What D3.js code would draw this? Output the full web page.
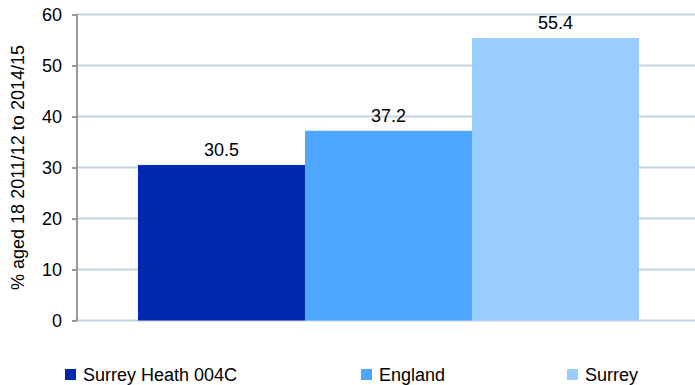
<!DOCTYPE html>
<html><head><meta charset="utf-8">
<script src="https://cdn.jsdelivr.net/npm/d3@7"></script>
<style>body{margin:0;background:#fff}svg{display:block;font-family:"Liberation Sans",Arial,sans-serif}</style>
</head><body>
<svg id="c" width="695" height="385"></svg>
<script>
const seriesNames = ["Surrey Heath 004C", "England", "Surrey"];
const seriesValues = [30.5, 37.2, 55.4];
const colors = ["#0029b0", "#4da6ff", "#99ccff"];
const yTicks = [0, 10, 20, 30, 40, 50, 60];
const yLabel = "% aged 18 2011/12 to 2014/15";

(function(){
const svg = d3.select("#c");
const FS = 18;
const mL = 77, mR = 700, mT = 14.5, mB = 320.5;
const y = d3.scaleLinear().domain([0, 60]).range([mB, mT]);
const x = d3.scaleBand().domain(seriesNames).range([mL, mR]).paddingInner(0).paddingOuter(0.365);

// gridlines
svg.append("g").selectAll("line").data(yTicks).join("line")
  .attr("x1", mL).attr("x2", 695).attr("y1", d => y(d)).attr("y2", d => y(d))
  .attr("stroke", "#c6d4e8").attr("stroke-width", 2);

// bars
svg.append("g").selectAll("rect").data(seriesValues).join("rect")
  .attr("x", (d, i) => x(seriesNames[i])).attr("width", x.bandwidth())
  .attr("y", d => y(d)).attr("height", d => mB - y(d))
  .attr("fill", (d, i) => colors[i]);

// value labels
svg.append("g").selectAll("text").data(seriesValues).join("text")
  .attr("x", (d, i) => x(seriesNames[i]) + x.bandwidth() / 2)
  .attr("y", d => y(d) - 9).attr("text-anchor", "middle")
  .attr("font-size", FS).attr("fill", "#000").text(d => d.toFixed(1));

// y axis
const ax = svg.append("g").attr("transform", `translate(${mL},0)`)
  .call(d3.axisLeft(y).tickValues(yTicks).tickSize(5).tickPadding(10));
ax.select(".domain").attr("stroke", "#999").attr("stroke-width", 2).attr("d", `M0,${mT - 0.5}V${mB + 0.5}`);
ax.selectAll(".tick line").attr("stroke", "#999").attr("stroke-width", 2);
ax.selectAll(".tick text").attr("font-size", FS).attr("fill", "#000").attr("font-family", "Liberation Sans, Arial, sans-serif");

svg.append("text").attr("transform", `translate(24,${(mT + mB) / 2}) rotate(-90)`)
  .attr("text-anchor", "middle").attr("font-size", FS).attr("fill", "#000").text(yLabel);

// legend
const legX = [65, 361, 567];
const leg = svg.append("g").selectAll("g").data(seriesNames).join("g")
  .attr("transform", (d, i) => `translate(${legX[i]},369)`);
leg.append("rect").attr("width", 11).attr("height", 11).attr("fill", (d, i) => colors[i]);
leg.append("text").attr("x", 18).attr("y", 12).attr("font-size", FS).attr("fill", "#000").text(d => d);
})();
</script>
</body></html>
